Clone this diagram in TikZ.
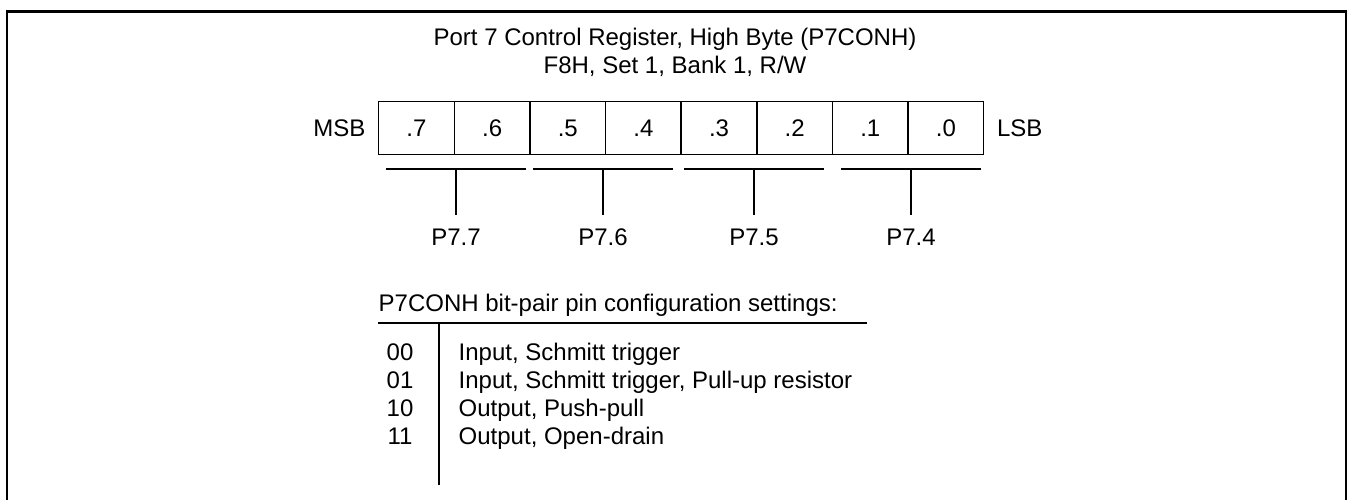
\documentclass[tikz,border=0pt]{standalone}
\usepackage{fontspec}
\setmainfont{Liberation Sans}
\usetikzlibrary{positioning, calc}

\begin{document}
\begin{tikzpicture}[x=0.5pt, y=-0.5pt, line width=0.7pt,
    font=\fontsize{12}{14}\selectfont,
    bitcell/.style={draw, minimum width=37.8pt, minimum height=26.5pt, inner sep=0pt, anchor=north west},
    pinlbl/.style={inner sep=0pt, outer ysep=6.7pt},
    txt/.style={inner sep=0pt}]
    \useasboundingbox (0,0) rectangle (1348,500);

    % Frame (open at the bottom)
    \draw[line width=1.1pt] (7,500) -- (7,11.5) -- (1346,11.5) -- (1346,500);

    % Title
    \node[txt, anchor=base] (title) at (675,45) {Port 7 Control Register, High Byte (P7CONH)};
    \node[txt, anchor=base] (addr) at (675,73) {F8H, Set 1, Bank 1, R/W};

    % Register bits
    \foreach \i in {0,...,7}{
        \pgfmathtruncatemacro{\b}{7-\i}
        \node[bitcell] (cell\i) at (378+75.625*\i,101) {.\b};
    }
    \node[txt, left=6pt of cell0] (msb) {MSB};
    \node[txt, right=6pt of cell7] (lsb) {LSB};

    % Bit pairs and pins
    \foreach \c/\name [count=\k] in {456/P7.7, 603/P7.6, 754/P7.5, 911/P7.4}{
        \coordinate (brk\k) at (\c,169);
        \draw (\c-70,169) -- (\c+70,169);
        \node[pinlbl] (pin\k) at (\c,237) {\name};
        \draw (brk\k) -- (pin\k.north);
    }

    % Settings table
    \node[txt, anchor=base west] (tblhead) at (378,311.5) {P7CONH bit-pair pin configuration settings:};
    \coordinate (hl) at (378,323);
    \coordinate (hr) at (867,323);
    \draw (hl) -- (hr);
    \coordinate (vt) at (439,323);
    \coordinate (vb) at (439,485);
    \draw (vt) -- (vb);
    \foreach \code/\desc [count=\r] in {00/{Input, Schmitt trigger},
        01/{Input, Schmitt trigger, Pull-up resistor},
        10/{Output, Push-pull},
        11/{Output, Open-drain}}{
        \node[txt, anchor=base] (code\r) at (400,332+28*\r) {\code};
        \node[txt, anchor=base west] (desc\r) at (458,332+28*\r) {\desc};
    }
\end{tikzpicture}
\end{document}
